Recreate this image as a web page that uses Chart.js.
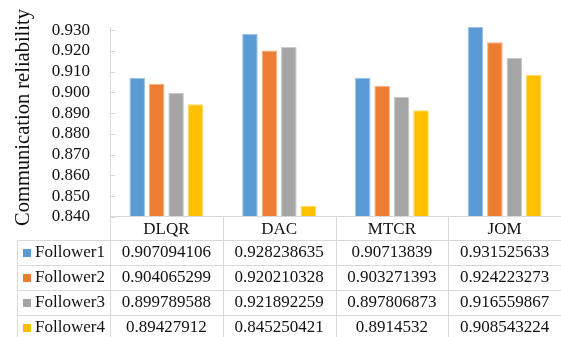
<!DOCTYPE html>
<html>
<head>
<meta charset="utf-8">
<script src="https://cdn.jsdelivr.net/npm/chart.js@4/dist/chart.umd.min.js"></script>
<style>
  html, body { margin: 0; padding: 0; background: #fff; }
  canvas { display: block; }
</style>
</head>
<body>
<canvas id="c" width="561" height="337"></canvas>
<script>
// Categories and series
const categories = ['DLQR', 'DAC', 'MTCR', 'JOM'];
const seriesNames = ['Follower1', 'Follower2', 'Follower3', 'Follower4'];
const follower1 = [0.907094106, 0.928238635, 0.90713839, 0.931525633];
const follower2 = [0.904065299, 0.920210328, 0.903271393, 0.924223273];
const follower3 = [0.899789588, 0.921892259, 0.897806873, 0.916559867];
const follower4 = [0.89427912, 0.845250421, 0.8914532, 0.908543224];
const yTicks = [0.84, 0.85, 0.86, 0.87, 0.88, 0.89, 0.90, 0.91, 0.92, 0.93];
const yTitle = 'Communication reliability';

const seriesValues = [follower1, follower2, follower3, follower4];
const fills = ['#5B9BD5', '#ED7D31', '#A5A5A5', '#FFC000'];
const edges = ['#9DC3E6', '#F4B183', '#C9C9C9', '#FFD966'];

const FONT = "'Liberation Serif', 'Times New Roman', serif";
const GRID = '#D9D9D9';
const TEXT = '#111';

// Draws the value axis title, the inward y tick marks and the data table under the plot
const dataTable = {
  id: 'dataTable',
  afterDraw(chart) {
    const { ctx, chartArea, scales } = chart;
    const x = scales.x, y = scales.y;
    const H = chart.height, W = chart.width;
    const left = Math.round(chartArea.left) + 0.5;
    const bottom = Math.round(chartArea.bottom) - 0.5;
    const headerH = 24, rowH = 25, legendLeft = 17.5;
    const n = categories.length;
    const half = (x.getPixelForValue(1) - x.getPixelForValue(0)) / 2;

    ctx.save();

    // rotated axis title
    ctx.save();
    ctx.translate(28.5, 117.5);
    ctx.rotate(-Math.PI / 2);
    ctx.font = '20.5px ' + FONT;
    ctx.fillStyle = TEXT;
    ctx.textAlign = 'center';
    ctx.textBaseline = 'alphabetic';
    ctx.fillText(yTitle, 0, 0);
    ctx.restore();

    ctx.strokeStyle = GRID;
    ctx.lineWidth = 1;
    ctx.beginPath();
    // y axis line, running down through the table
    ctx.moveTo(left, Math.round(chartArea.top) - 3);
    ctx.lineTo(left, H);
    // inward tick marks
    yTicks.forEach(v => {
      const py = Math.round(y.getPixelForValue(v)) + 0.5;
      ctx.moveTo(left, py);
      ctx.lineTo(left + 5, py);
    });
    // category axis line
    ctx.moveTo(left, bottom);
    ctx.lineTo(W, bottom);
    // column separators
    for (let i = 0; i < n - 1; i++) {
      const px = Math.round(x.getPixelForValue(i) + half) + 0.5;
      ctx.moveTo(px, bottom);
      ctx.lineTo(px, H);
    }
    // row lines
    for (let r = 0; r <= seriesNames.length - 1; r++) {
      const py = bottom + headerH + r * rowH;
      ctx.moveTo(legendLeft, py);
      ctx.lineTo(W, py);
    }
    // legend column left border
    ctx.moveTo(legendLeft, bottom + headerH);
    ctx.lineTo(legendLeft, H);
    ctx.stroke();

    // rows: legend key + values
    ctx.font = '17px ' + FONT;
    ctx.textBaseline = 'middle';
    seriesNames.forEach((name, r) => {
      const cy = bottom + headerH + r * rowH + rowH / 2;
      ctx.fillStyle = fills[r];
      ctx.fillRect(23, Math.round(cy) - 4, 8, 8);
      ctx.fillStyle = TEXT;
      ctx.textAlign = 'left';
      ctx.fillText(name, 35, cy);
      ctx.textAlign = 'center';
      seriesValues[r].forEach((v, i) => {
        ctx.fillText(String(v), x.getPixelForValue(i), cy);
      });
    });
    ctx.restore();
  }
};

new Chart(document.getElementById('c'), {
  type: 'bar',
  data: {
    labels: categories,
    datasets: seriesNames.map((name, i) => ({
      label: name,
      data: seriesValues[i],
      backgroundColor: fills[i],
      borderColor: edges[i],
      borderWidth: 1,
      clip: { left: 0, top: 6, right: 0, bottom: 0 },
      categoryPercentage: 0.69,
      barPercentage: 0.8
    }))
  },
  options: {
    responsive: false,
    animation: false,
    layout: { padding: { top: 30, left: 0, right: 0, bottom: 0 } },
    plugins: {
      legend: { display: false },
      tooltip: { enabled: false }
    },
    scales: {
      x: {
        grid: { display: false, drawTicks: false },
        border: { display: false },
        ticks: { color: TEXT, font: { family: FONT, size: 17 }, padding: 2, maxRotation: 0 },
        afterFit(s) { s.height = 120; }
      },
      y: {
        min: 0.84,
        max: 0.93,
        grid: { display: false, drawTicks: false },
        border: { display: false },
        afterBuildTicks(s) { s.ticks = yTicks.map(v => ({ value: v })); },
        ticks: {
          color: TEXT,
          font: { family: FONT, size: 17 },
          padding: 20,
          autoSkip: false,
          callback: v => Number(v).toFixed(3)
        },
        afterFit(s) { s.width = 110; }
      }
    }
  },
  plugins: [dataTable]
});
</script>
</body>
</html>
